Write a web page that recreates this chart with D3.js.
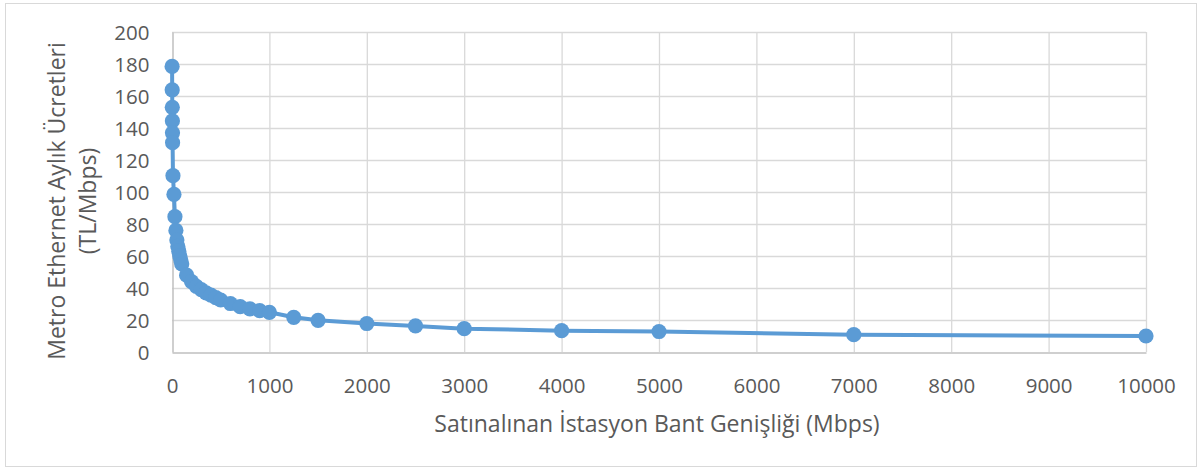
<!DOCTYPE html>
<html><head><meta charset="utf-8">
<script src="https://cdn.jsdelivr.net/npm/d3@7"></script>
<style>body{margin:0;background:#fff;} svg{display:block;} text{font-family:"Open Sans",sans-serif;fill:#595959;}</style>
</head><body><svg id="c" width="1202" height="471"></svg>
<script>
const bandwidth = [1,2,3,4,5,6,10,20,30,40,50,60,70,80,90,100,150,200,250,300,350,400,450,500,600,700,800,900,1000,1250,1500,2000,2500,3000,4000,5000,7000,10000];
const price = [178.5,163.8,152.9,144.4,137,130.8,110.2,98.5,84.6,76,70,66,63,60,57.5,55,48,44,41,39,37,35.5,34,32.5,30.3,28.3,27,25.8,24.8,21.7,19.8,17.8,16.3,14.6,13.3,12.8,10.8,10];
const xTicks = [0,1000,2000,3000,4000,5000,6000,7000,8000,9000,10000];
const yTicks = [0,20,40,60,80,100,120,140,160,180,200];
const xTitle = "Satınalınan İstasyon Bant Genişliği (Mbps)";
const yTitle = ["Metro Ethernet Aylık Ücretleri", "(TL/Mbps)"];

const svg = d3.select("#c");
const L=172, R=1146, T=32, B=352;
const x = d3.scaleLinear().domain([0,10000]).range([L,R]);
const y = d3.scaleLinear().domain([0,200]).range([B,T]);

svg.append("rect").attr("x",5.5).attr("y",3.5).attr("width",1191).attr("height",463)
  .attr("fill","#fff").attr("stroke","#d9d9d9");

// grid
svg.append("g").selectAll("line").data(yTicks.filter(d=>d>0)).join("line")
  .attr("x1",L).attr("x2",R).attr("y1",d=>y(d)+0.5).attr("y2",d=>y(d)+0.5)
  .attr("stroke","#d9d9d9").attr("stroke-width",1.3);
svg.append("g").selectAll("line").data(xTicks.filter(d=>d>0)).join("line")
  .attr("y1",T).attr("y2",B).attr("x1",d=>x(d)+0.5).attr("x2",d=>x(d)+0.5)
  .attr("stroke","#d9d9d9").attr("stroke-width",1.3);

// axes
const xa = svg.append("g").attr("transform",`translate(0,${B+0.5})`)
  .call(d3.axisBottom(x).tickValues(xTicks).tickSize(0).tickPadding(26).tickFormat(d3.format("d")));
const ya = svg.append("g").attr("transform",`translate(${L+0.5},0)`)
  .call(d3.axisLeft(y).tickValues(yTicks).tickSize(0).tickPadding(23).tickFormat(d3.format("d")));
[xa,ya].forEach(a=>{a.select(".domain").attr("stroke","#bfbfbf").attr("stroke-width",1.5);
  a.selectAll("text").style("font-size","20.5px").attr("fill","#595959").style("font-family","'Open Sans',sans-serif");});
xa.selectAll("text").attr("dy","0.71em");
ya.selectAll("text").attr("dy","0.38em");

// line
const line = d3.line().x((d,i)=>x(bandwidth[i])).y(d=>y(d));
svg.append("path").datum(price).attr("d",line).attr("fill","none")
  .attr("stroke","#5b9bd5").attr("stroke-width",4).attr("stroke-linejoin","round");
svg.append("g").selectAll("circle").data(price).join("circle")
  .attr("cx",(d,i)=>x(bandwidth[i])).attr("cy",d=>y(d)).attr("r",7.6).attr("fill","#5b9bd5");

// titles
svg.append("text").attr("x",657).attr("y",432).attr("text-anchor","middle")
  .style("font-size","23px").text(xTitle);
const yt = svg.append("text").attr("transform","translate(0,201) rotate(-90)").attr("text-anchor","middle")
  .style("font-size","23px");
yt.append("tspan").attr("x",0).attr("y",65).text(yTitle[0]);
yt.append("tspan").attr("x",0).attr("y",96).text(yTitle[1]);
</script></body></html>
